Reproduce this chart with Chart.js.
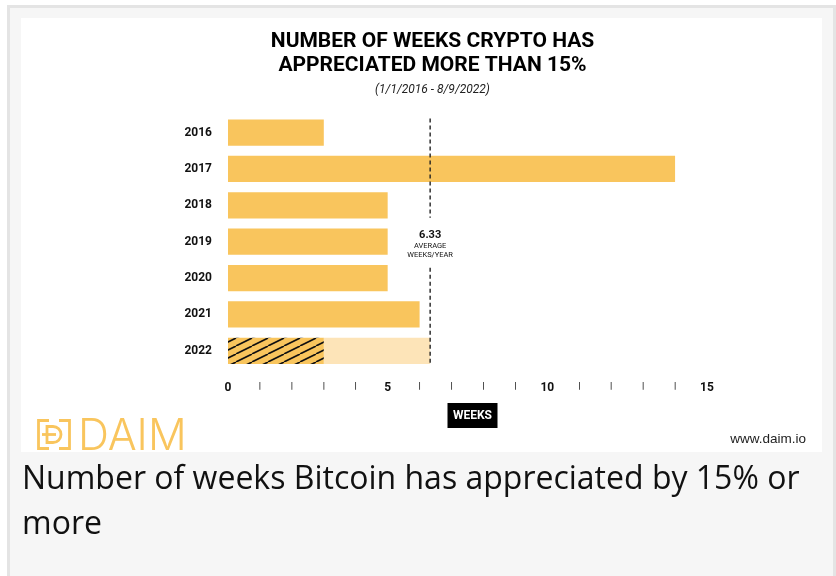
<!DOCTYPE html>
<html>
<head>
<meta charset="utf-8">
<script src="https://cdn.jsdelivr.net/npm/chart.js@4.4.0/dist/chart.umd.min.js"></script>
<style>
  html, body { margin: 0; padding: 0; background: #fff; width: 836px; height: 576px; overflow: hidden; }
  .frame { position: absolute; left: 7px; top: 5px; width: 823px; height: 600px; border: 3px solid #e4e4e4; border-bottom: none; background: #f6f6f6; }
  .panel { position: absolute; left: 21px; top: 18px; width: 801px; height: 434px; background: #fff; }
  #chart { position: absolute; left: 23px; top: 0; }
  .logo { position: absolute; left: 16px; top: 400px; height: 34px; color: #f9c55d; }
  .logo svg { position: absolute; left: 0; top: 1px; }
  .logo span { position: absolute; left: 41px; top: -6px; font-family: Inter, "Noto Sans", sans-serif; font-weight: 300; font-size: 43px; line-height: 44px; letter-spacing: 0; white-space: nowrap; }
  .site { position: absolute; right: 16px; top: 413px; font-family: "Liberation Sans", Arial, sans-serif; font-size: 13.5px; color: #222; }
  .caption { position: absolute; left: 22px; top: 454px; width: 800px; font-family: "Open Sans", "Noto Sans", sans-serif; font-size: 32px; line-height: 45px; color: #111; }
</style>
</head>
<body>
<div class="frame"></div>
<div class="panel">
  <canvas id="chart" width="778" height="434"></canvas>
  <div class="logo">
    <svg width="34" height="31" viewBox="0 0 34 31">
      <g fill="none" stroke="#f9c55d" stroke-width="2.8">
        <path d="M12 1.5 H1.5 V29.5 H12 M22 1.5 H32.5 V29.5 H22"/>
        <path d="M10 7.5 H16 A8 8 0 0 1 16 23.5 H10 Z"/>
        <path d="M5 15.5 H19"/>
      </g>
    </svg>
    <span>DAIM</span>
  </div>
  <div class="site">www.daim.io</div>
</div>
<div class="caption">Number of weeks Bitcoin has appreciated by 15% or more</div>

<script>
// weeks with a gain of more than 15%, per year
const years = ['2016', '2017', '2018', '2019', '2020', '2021', '2022'];
const weeksAbove15 = [3, 14, 5, 5, 5, 6, 3];
const projectedRest = [0, 0, 0, 0, 0, 0, 3.33]; // 2022 up to the average
const averageWeeks = 6.33;
const majorTicks = [0, 5, 10, 15];

const yellow = '#f9c55d';
const lightYellow = '#fde4b8';

// hatch for the year still running
function makeHatch() {
    const c = document.createElement('canvas');
    c.width = 16;
    c.height = 8;
    const g = c.getContext('2d');
    g.fillStyle = yellow;
    g.fillRect(0, 0, 16, 8);
    g.strokeStyle = '#111';
    g.lineWidth = 1.6;
    [-16, 0, 16].forEach(function (dx) {
        g.beginPath();
        g.moveTo(dx, 8);
        g.lineTo(dx + 16, 0);
        g.stroke();
    });
    return g.createPattern(c, 'repeat');
}
const hatch = makeHatch();

const averageLine = {
    id: 'averageLine',
    afterDatasetsDraw(chart) {
        const { ctx, scales: { x, y }, chartArea } = chart;
        const bars = chart.getDatasetMeta(0).data;
        const top = bars[0].y - bars[0].height / 2 - 1;
        const bottom = bars[bars.length - 1].y + bars[bars.length - 1].height / 2;
        const px = x.getPixelForValue(averageWeeks);
        const mid = y.getPixelForValue(3);

        ctx.save();
        ctx.strokeStyle = '#222';
        ctx.lineWidth = 1.4;
        ctx.setLineDash([4, 3]);
        ctx.beginPath();
        ctx.moveTo(px, top);
        ctx.lineTo(px, mid - 24);
        ctx.moveTo(px, mid + 26);
        ctx.lineTo(px, bottom);
        ctx.stroke();

        ctx.fillStyle = '#111';
        ctx.textAlign = 'center';
        ctx.textBaseline = 'middle';
        ctx.font = 'bold 11px Roboto';
        ctx.fillText(averageWeeks.toFixed(2), px, mid - 6);
        ctx.font = '7.5px Roboto';
        ctx.fillText('AVERAGE', px, mid + 4.5);
        ctx.fillText('WEEKS/YEAR', px, mid + 13);

        // axis label box
        const cx = (chartArea.left + chartArea.right) / 2 + 5;
        const by = x.top + 34;
        ctx.fillStyle = '#000';
        ctx.fillRect(cx - 25, by, 50, 25);
        ctx.fillStyle = '#fff';
        ctx.font = 'bold 12px Roboto';
        ctx.fillText('WEEKS', cx, by + 13);
        ctx.restore();
    }
};

new Chart(document.getElementById('chart'), {
    type: 'bar',
    data: {
        labels: years,
        datasets: [
            {
                label: 'Weeks above 15%',
                data: weeksAbove15,
                backgroundColor: function (c) { return c.dataIndex === years.length - 1 ? hatch : yellow; },
                barPercentage: 0.72,
                categoryPercentage: 1,
            },
            {
                label: 'Remaining to average',
                data: projectedRest,
                backgroundColor: lightYellow,
                barPercentage: 0.72,
                categoryPercentage: 1,
            },
        ],
    },
    options: {
        indexAxis: 'y',
        responsive: false,
        animation: false,
        layout: { padding: { left: 114, right: 115, top: 0, bottom: 43 } },
        plugins: {
            legend: { display: false },
            tooltip: { enabled: false },
            title: {
                display: true,
                text: ['NUMBER OF WEEKS CRYPTO HAS', 'APPRECIATED MORE THAN 15%'],
                color: '#000',
                font: { family: 'Roboto', size: 21, weight: 'bold', lineHeight: 24 / 21 },
                padding: { top: 12, bottom: 4 },
            },
            subtitle: {
                display: true,
                text: '(1/1/2016 - 8/9/2022)',
                color: '#222',
                font: { family: 'Roboto', size: 12, style: 'italic' },
                padding: { top: 1, bottom: 17 },
            },
        },
        scales: {
            x: {
                stacked: true,
                min: 0,
                max: 15,
                grid: { display: false, drawTicks: false },
                border: { display: false },
                ticks: {
                    stepSize: 1,
                    autoSkip: false,
                    maxRotation: 0,
                    padding: 12,
                    color: '#111',
                    callback: function (v) { return majorTicks.includes(v) ? v : '|'; },
                    font: function (c) {
                        const major = c.tick && majorTicks.includes(c.tick.value);
                        return { family: 'Roboto', size: major ? 12 : 9, weight: 'bold' };
                    },
                },
                afterFit: function (s) { s.height = 40; },
            },
            y: {
                stacked: true,
                grid: { display: false, drawTicks: false },
                border: { display: false },
                ticks: {
                    padding: 16,
                    color: '#111',
                    font: { family: 'Roboto', size: 12, weight: 'bold' },
                },
                afterFit: function (s) { s.width = 70; },
            },
        },
    },
    plugins: [averageLine],
});
</script>
</body>
</html>
